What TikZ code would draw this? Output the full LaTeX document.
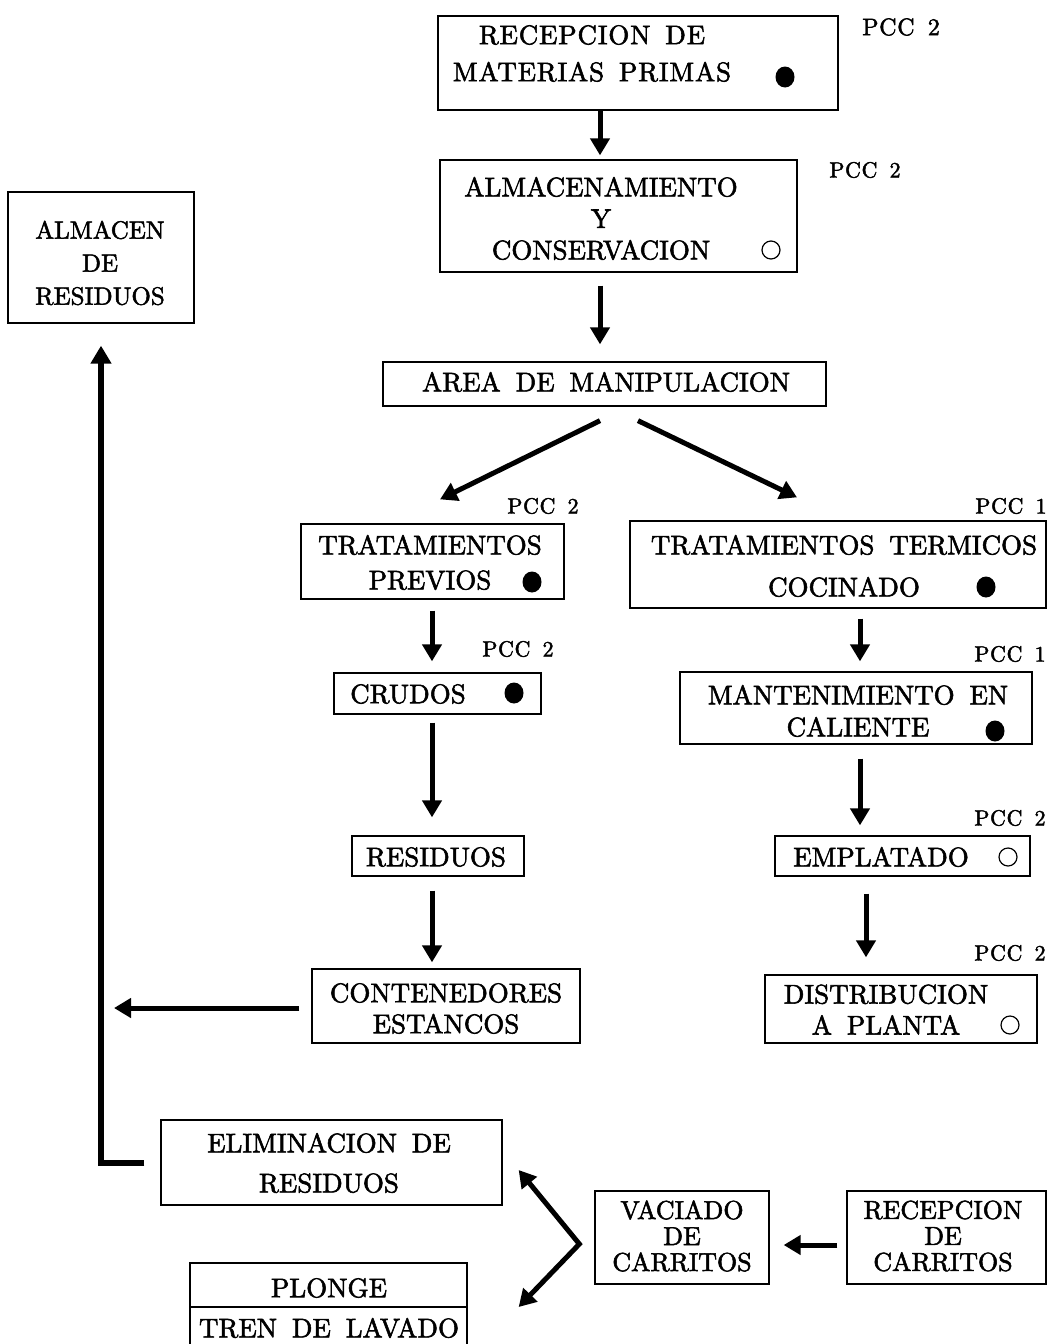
\documentclass[tikz,border=0pt]{standalone}
\usepackage{fontspec}
\setmainfont{lmroman10-regular.otf}[FakeBold=2]
\usetikzlibrary{arrows.meta,shapes.geometric}
\newcommand\bxf[2]{\fontsize{#1}{#2}\selectfont\spaceskip=0.55em\relax}
\begin{document}
\begin{tikzpicture}[x=1pt,y=-1pt,
  box/.style={draw, line width=1.3pt, inner sep=0pt},
  txt/.style={inner sep=0pt, align=center},
  pcc/.style={inner sep=0pt, font=\bxf{22}{24}\addfontfeature{LetterSpace=3}},
  arr/.style={line width=5pt, -{Triangle[length=17pt,width=19pt]}},
  dbl/.style={line width=5pt, line join=miter, {Triangle[length=17pt,width=19pt]}-{Triangle[length=17pt,width=19pt]}},
  fdot/.style={ellipse, fill, inner sep=0pt, minimum width=19pt, minimum height=21pt},
  ring/.style={circle, draw, line width=1.2pt, inner sep=0pt, minimum size=18pt}]
\useasboundingbox[fill=white] (0,0) rectangle (1048,1344);
% boxes
\node[box, minimum width=400pt, minimum height=94pt] (b1) at (638,63) {};
\node[box, minimum width=357pt, minimum height=112pt] (b2) at (618.5,216) {};
\node[box, minimum width=443pt, minimum height=44pt] (b3) at (604.5,384) {};
\node[box, minimum width=263pt, minimum height=75pt] (b4) at (432.5,561.5) {};
\node[box, minimum width=416pt, minimum height=87pt] (b5) at (838,564.5) {};
\node[box, minimum width=207pt, minimum height=41pt] (b6) at (437.5,693.5) {};
\node[box, minimum width=172pt, minimum height=40pt] (b7) at (438,856) {};
\node[box, minimum width=268pt, minimum height=74pt] (b8) at (446,1006) {};
\node[box, minimum width=186pt, minimum height=131pt] (b9) at (101,257.5) {};
\node[box, minimum width=352pt, minimum height=72pt] (b10) at (856,708) {};
\node[box, minimum width=255pt, minimum height=40pt] (b11) at (902.5,856) {};
\node[box, minimum width=272pt, minimum height=68pt] (b12) at (901,1009) {};
\node[box, minimum width=341pt, minimum height=85pt] (b13) at (331.5,1162.5) {};
\node[box, minimum width=277pt, minimum height=44pt] (b14) at (328.5,1285) {};
\node[box, minimum width=277pt, minimum height=40pt] (b15) at (328.5,1327) {};
\node[box, minimum width=174pt, minimum height=93pt] (b16) at (682,1237.5) {};
\node[box, minimum width=199pt, minimum height=93pt] (b17) at (946.5,1237.5) {};
% texts
\node[txt, font=\bxf{27}{37}\addfontfeature{LetterSpace=3}] (t1) at (592,53.5) {RECEPCION DE\\MATERIAS PRIMAS};
\node[txt, font=\bxf{27}{31.5}] (t2) at (601,218.5) {ALMACENAMIENTO\\Y\\CONSERVACION};
\node[txt, font=\bxf{27}{30}] (t3) at (606,382) {AREA DE MANIPULACION};
\node[txt, font=\bxf{27}{35}] (t4) at (430,562.5) {TRATAMIENTOS\\PREVIOS};
\node[txt, font=\bxf{27}{42}] (t5) at (844,566) {TRATAMIENTOS TERMICOS\\COCINADO};
\node[txt, font=\bxf{27}{30}] (t6) at (408,694) {CRUDOS};
\node[txt, font=\bxf{27}{30}] (t7) at (436,857) {RESIDUOS};
\node[txt, font=\bxf{27}{31}] (t8) at (446,1008.5) {CONTENEDORES\\ESTANCOS};
\node[txt, font=\bxf{25}{33}] (t9) at (100,263) {ALMACEN\\DE\\RESIDUOS};
\node[txt, font=\bxf{27}{32}] (t10) at (858,711) {MANTENIMIENTO EN\\CALIENTE};
\node[txt, font=\bxf{27}{30}] (t11) at (881,857) {EMPLATADO};
\node[txt, font=\bxf{27}{31}] (t12) at (886,1009.5) {DISTRIBUCION\\A PLANTA};
\node[txt, font=\bxf{27}{40}] (t13) at (329,1163) {ELIMINACION DE\\RESIDUOS};
\node[txt, font=\bxf{27}{30}] (t14) at (329,1288) {PLONGE};
\node[txt, font=\bxf{27}{30}] (t15) at (329,1328) {TREN DE LAVADO};
\node[txt, font=\bxf{26}{26}] (t16) at (682,1236) {VACIADO\\DE\\CARRITOS};
\node[txt, font=\bxf{26}{26}] (t17) at (943,1236) {RECEPCION\\DE\\CARRITOS};
% markers
\node[fdot] (d1) at (785,77) {};
\node[ring] (r2) at (771,250) {};
\node[fdot] (d4) at (532,582) {};
\node[fdot] (d5) at (986,587) {};
\node[fdot] (d6) at (514,693) {};
\node[fdot] (d10) at (995,731) {};
\node[ring] (r11) at (1008,857) {};
\node[ring] (r12) at (1010,1025) {};
% PCC labels
\node[pcc, font=\bxf{24}{26}\addfontfeature{LetterSpace=3}] (p1) at (901,27) {PCC 2};
\node[pcc] (p2) at (865,170) {PCC 2};
\node[pcc] (p4) at (543,506) {PCC 2};
\node[pcc] (p5) at (1011,506) {PCC 1};
\node[pcc] (p6) at (518,649) {PCC 2};
\node[pcc] (p10) at (1010,654) {PCC 1};
\node[pcc] (p11) at (1010,818) {PCC 2};
\node[pcc] (p12) at (1010,953) {PCC 2};
% connectors
\coordinate (j) at (114,1008);
\draw[arr] ([xshift=-38pt]b1.south) -- ([xshift=-18.5pt,yshift=4pt]b2.north);
\draw[arr] ([xshift=-18.5pt,yshift=-13pt]b2.south) -- ([xshift=-4.5pt,yshift=17pt]b3.north);
\draw[arr] ([xshift=-4.5pt,yshift=-14pt]b3.south) -- ([xshift=7.5pt,yshift=24pt]b4.north);
\draw[arr] ([xshift=33.5pt,yshift=-14pt]b3.south) -- ([xshift=-41pt,yshift=23pt]b5.north);
\draw[arr] ([xshift=-0.5pt,yshift=-11pt]b4.south) -- ([xshift=-5.5pt,yshift=11pt]b6.north);
\draw[arr] ([xshift=-5.5pt,yshift=-8pt]b6.south) -- ([xshift=-6pt,yshift=18pt]b7.north);
\draw[arr] ([xshift=-6pt,yshift=-14pt]b7.south) -- ([xshift=-14pt,yshift=6pt]b8.north);
\draw[arr] ([xshift=-12pt,yshift=-2pt]b8.west) -- (j);
\draw[line width=6pt, -{Triangle[length=18pt,width=20pt]}] ([xshift=-16pt]b13.west) -| ([yshift=-22pt]b9.south);
\draw[arr] ([xshift=22pt,yshift=-10pt]b5.south) -- ([xshift=4pt,yshift=10pt]b10.north);
\draw[arr] ([xshift=4pt,yshift=-14pt]b10.south) -- ([xshift=-42.5pt,yshift=10pt]b11.north);
\draw[arr] ([xshift=-36.5pt,yshift=-17pt]b11.south) -- ([xshift=-35pt,yshift=17pt]b12.north);
\draw[arr] ([xshift=-9pt,yshift=-7.5pt]b17.west) -- ([xshift=14pt,yshift=-7.5pt]b16.east);
\draw[dbl] ([xshift=16pt,yshift=-7.5pt]b13.east) -- ([xshift=-15pt,yshift=-6.5pt]b16.west) -- ([xshift=51pt,yshift=-22pt]b14.east);
\end{tikzpicture}
\end{document}
